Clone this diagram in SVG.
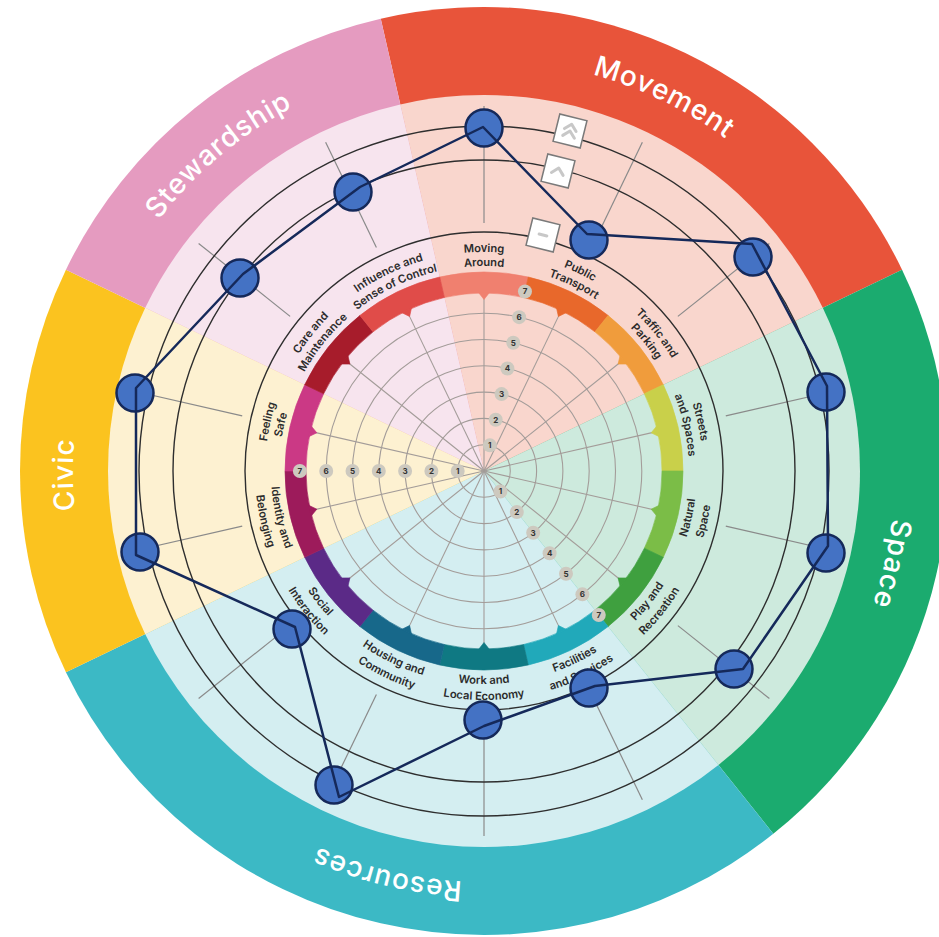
<svg xmlns="http://www.w3.org/2000/svg" xmlns:xlink="http://www.w3.org/1999/xlink" width="939" height="937" viewBox="0 0 939 937">
<style>
.ring{fill:none;stroke:#a39c99;stroke-width:1.1}
.spoke{stroke:#a39c99;stroke-width:1.1}
.tick{stroke:#8a8a8a;stroke-width:1.2}
.bk{fill:none;stroke:#2e2e2e;stroke-width:1.4}
.lbl{font-family:Inter,"Noto Sans",sans-serif;font-size:11.2px;font-weight:600;fill:#2b2b2b}
.cat{font-family:Inter,"Noto Sans",sans-serif;font-size:28px;font-weight:500;fill:#ffffff;letter-spacing:1px}
.nb{fill:#cdc9bf}
.nt{font-family:Inter,"Noto Sans",sans-serif;font-size:8px;font-weight:700;fill:#333;text-anchor:middle}
.box{fill:#ffffff;stroke:#7a7a7a;stroke-width:1.5}
.chev{fill:none;stroke:#c8c8c8;stroke-width:3;stroke-linecap:round;stroke-linejoin:round}
.mk{fill:#4472c4;stroke:#15295a;stroke-width:2.5}
.conn{fill:none;stroke:#15295a;stroke-width:2.5;stroke-linejoin:round}
</style>
<defs>
<g id="seg"><path d="M439.72,276.99 A199,199 0 0 1 528.28,276.99 L523.61,297.46 A178,178 0 0 0 444.39,297.46 Z"/><path d="M478.5,292.5 L489.5,292.5 L484,299.5 Z"/></g>
<path id="cw219" d="M484,690 A219,219 0 1 1 484,252 A219,219 0 1 1 484,690"/>
<path id="cw205" d="M484,676 A205,205 0 1 1 484,266 A205,205 0 1 1 484,676"/>
<path id="ccw213" d="M484,258 A213,213 0 1 0 484,684 A213,213 0 1 0 484,258"/>
<path id="ccw229" d="M484,242 A229,229 0 1 0 484,700 A229,229 0 1 0 484,242"/>
<path id="cw411" d="M484,882 A411,411 0 1 1 484,60 A411,411 0 1 1 484,882"/>
</defs>

<g id="outer-ring">
<path fill="#e8543a" d="M484,471 L380.75,18.63 A464,464 0 0 1 902.05,269.68 Z"/>
<path fill="#1bab6f" d="M484,471 L902.05,269.68 A464,464 0 0 1 773.30,833.77 Z"/>
<path fill="#3cb9c5" d="M484,471 L773.30,833.77 A464,464 0 0 1 65.95,672.32 Z"/>
<path fill="#fbc31f" d="M484,471 L65.95,672.32 A464,464 0 0 1 65.95,269.68 Z"/>
<path fill="#e59bc0" d="M484,471 L65.95,269.68 A464,464 0 0 1 380.75,18.63 Z"/>
</g>
<g id="pale-sectors">
<path fill="#f9d6cd" d="M484,471 L400.33,104.43 A376,376 0 0 1 822.76,307.86 Z"/>
<path fill="#cdeadd" d="M484,471 L822.76,307.86 A376,376 0 0 1 718.43,764.97 Z"/>
<path fill="#d4eef1" d="M484,471 L718.43,764.97 A376,376 0 0 1 145.24,634.14 Z"/>
<path fill="#fdf1d1" d="M484,471 L145.24,634.14 A376,376 0 0 1 145.24,307.86 Z"/>
<path fill="#f7e4ee" d="M484,471 L145.24,307.86 A376,376 0 0 1 400.33,104.43 Z"/>
</g>

<g id="category-labels" class="cat">
<text transform="rotate(25.714 484 471)"><textPath href="#cw411" startOffset="50%" text-anchor="middle">Movement</textPath></text>
<text transform="rotate(102.857 484 471)"><textPath href="#cw411" startOffset="50%" text-anchor="middle">Space</textPath></text>
<text transform="rotate(193.5 484 471)"><textPath href="#cw411" startOffset="50%" text-anchor="middle">Resources</textPath></text>
<text transform="rotate(269.5 484 471)"><textPath href="#cw411" startOffset="50%" text-anchor="middle">Civic</textPath></text>
<text transform="rotate(320 484 471)"><textPath href="#cw411" startOffset="50%" text-anchor="middle">Stewardship</textPath></text>
</g>

<g id="scale-rings">
<circle class="ring" cx="484" cy="471" r="26.3"/>
<circle class="ring" cx="484" cy="471" r="52.6"/>
<circle class="ring" cx="484" cy="471" r="78.9"/>
<circle class="ring" cx="484" cy="471" r="105.2"/>
<circle class="ring" cx="484" cy="471" r="131.5"/>
<circle class="ring" cx="484" cy="471" r="157.8"/>
</g>
<g id="spokes" class="spoke">
<line x1="484" y1="471" x2="484" y2="293"/>
<line x1="484" y1="471" x2="484" y2="293" transform="rotate(25.714 484 471)"/>
<line x1="484" y1="471" x2="484" y2="293" transform="rotate(51.429 484 471)"/>
<line x1="484" y1="471" x2="484" y2="293" transform="rotate(77.143 484 471)"/>
<line x1="484" y1="471" x2="484" y2="293" transform="rotate(102.857 484 471)"/>
<line x1="484" y1="471" x2="484" y2="293" transform="rotate(128.571 484 471)"/>
<line x1="484" y1="471" x2="484" y2="293" transform="rotate(154.286 484 471)"/>
<line x1="484" y1="471" x2="484" y2="293" transform="rotate(180 484 471)"/>
<line x1="484" y1="471" x2="484" y2="293" transform="rotate(205.714 484 471)"/>
<line x1="484" y1="471" x2="484" y2="293" transform="rotate(231.429 484 471)"/>
<line x1="484" y1="471" x2="484" y2="293" transform="rotate(257.143 484 471)"/>
<line x1="484" y1="471" x2="484" y2="293" transform="rotate(282.857 484 471)"/>
<line x1="484" y1="471" x2="484" y2="293" transform="rotate(308.571 484 471)"/>
<line x1="484" y1="471" x2="484" y2="293" transform="rotate(334.286 484 471)"/>
</g>

<g id="theme-band" stroke-width="0.6">
<use href="#seg" fill="#f0806f" stroke="#f0806f"/>
<use href="#seg" fill="#e8682b" stroke="#e8682b" transform="rotate(25.714 484 471)"/>
<use href="#seg" fill="#f09c3c" stroke="#f09c3c" transform="rotate(51.429 484 471)"/>
<use href="#seg" fill="#c9d04a" stroke="#c9d04a" transform="rotate(77.143 484 471)"/>
<use href="#seg" fill="#7bbd47" stroke="#7bbd47" transform="rotate(102.857 484 471)"/>
<use href="#seg" fill="#3fa03f" stroke="#3fa03f" transform="rotate(128.571 484 471)"/>
<use href="#seg" fill="#21a9ba" stroke="#21a9ba" transform="rotate(154.286 484 471)"/>
<use href="#seg" fill="#0f7983" stroke="#0f7983" transform="rotate(180 484 471)"/>
<use href="#seg" fill="#17688a" stroke="#17688a" transform="rotate(205.714 484 471)"/>
<use href="#seg" fill="#5b2a87" stroke="#5b2a87" transform="rotate(231.429 484 471)"/>
<use href="#seg" fill="#9d1b5b" stroke="#9d1b5b" transform="rotate(257.143 484 471)"/>
<use href="#seg" fill="#cb3985" stroke="#cb3985" transform="rotate(282.857 484 471)"/>
<use href="#seg" fill="#a71c2b" stroke="#a71c2b" transform="rotate(308.571 484 471)"/>
<use href="#seg" fill="#e04c49" stroke="#e04c49" transform="rotate(334.286 484 471)"/>
</g>

<g id="scale-numbers">
<circle class="nb" cx="489.85" cy="445.36" r="7"/><text class="nt" x="489.85" y="448.2">1</text>
<circle class="nb" cx="495.70" cy="419.72" r="7"/><text class="nt" x="495.70" y="422.6">2</text>
<circle class="nb" cx="501.56" cy="394.08" r="7"/><text class="nt" x="501.56" y="396.9">3</text>
<circle class="nb" cx="507.41" cy="368.44" r="7"/><text class="nt" x="507.41" y="371.3">4</text>
<circle class="nb" cx="513.26" cy="342.80" r="7"/><text class="nt" x="513.26" y="345.6">5</text>
<circle class="nb" cx="519.11" cy="317.16" r="7"/><text class="nt" x="519.11" y="320.0">6</text>
<circle class="nb" cx="524.97" cy="291.51" r="7"/><text class="nt" x="524.97" y="294.4">7</text>
<circle class="nb" cx="500.40" cy="491.56" r="7"/><text class="nt" x="500.40" y="494.4">1</text>
<circle class="nb" cx="516.80" cy="512.12" r="7"/><text class="nt" x="516.80" y="515.0">2</text>
<circle class="nb" cx="533.19" cy="532.69" r="7"/><text class="nt" x="533.19" y="535.5">3</text>
<circle class="nb" cx="549.59" cy="553.25" r="7"/><text class="nt" x="549.59" y="556.1">4</text>
<circle class="nb" cx="565.99" cy="573.81" r="7"/><text class="nt" x="565.99" y="576.7">5</text>
<circle class="nb" cx="582.39" cy="594.37" r="7"/><text class="nt" x="582.39" y="597.2">6</text>
<circle class="nb" cx="598.78" cy="614.94" r="7"/><text class="nt" x="598.78" y="617.8">7</text>
<circle class="nb" cx="457.7" cy="471" r="7"/><text class="nt" x="457.7" y="473.9">1</text>
<circle class="nb" cx="431.4" cy="471" r="7"/><text class="nt" x="431.4" y="473.9">2</text>
<circle class="nb" cx="405.1" cy="471" r="7"/><text class="nt" x="405.1" y="473.9">3</text>
<circle class="nb" cx="378.8" cy="471" r="7"/><text class="nt" x="378.8" y="473.9">4</text>
<circle class="nb" cx="352.5" cy="471" r="7"/><text class="nt" x="352.5" y="473.9">5</text>
<circle class="nb" cx="326.2" cy="471" r="7"/><text class="nt" x="326.2" y="473.9">6</text>
<circle class="nb" cx="299.9" cy="471" r="7"/><text class="nt" x="299.9" y="473.9">7</text>
</g>

<g id="theme-labels" class="lbl">
<text><textPath href="#cw219" startOffset="50%" text-anchor="middle">Moving</textPath></text>
<text><textPath href="#cw205" startOffset="50%" text-anchor="middle">Around</textPath></text>
<text transform="rotate(25.714 484 471)"><textPath href="#cw219" startOffset="50%" text-anchor="middle">Public</textPath></text>
<text transform="rotate(25.714 484 471)"><textPath href="#cw205" startOffset="50%" text-anchor="middle">Transport</textPath></text>
<text transform="rotate(51.429 484 471)"><textPath href="#cw219" startOffset="50%" text-anchor="middle">Traffic and</textPath></text>
<text transform="rotate(51.429 484 471)"><textPath href="#cw205" startOffset="50%" text-anchor="middle">Parking</textPath></text>
<text transform="rotate(77.143 484 471)"><textPath href="#cw219" startOffset="50%" text-anchor="middle">Streets</textPath></text>
<text transform="rotate(77.143 484 471)"><textPath href="#cw205" startOffset="50%" text-anchor="middle">and Spaces</textPath></text>
<text transform="rotate(-77.143 484 471)"><textPath href="#ccw213" startOffset="50%" text-anchor="middle">Natural</textPath></text>
<text transform="rotate(-77.143 484 471)"><textPath href="#ccw229" startOffset="50%" text-anchor="middle">Space</textPath></text>
<text transform="rotate(-51.429 484 471)"><textPath href="#ccw213" startOffset="50%" text-anchor="middle">Play and</textPath></text>
<text transform="rotate(-51.429 484 471)"><textPath href="#ccw229" startOffset="50%" text-anchor="middle">Recreation</textPath></text>
<text transform="rotate(-25.714 484 471)"><textPath href="#ccw213" startOffset="50%" text-anchor="middle">Facilities</textPath></text>
<text transform="rotate(-25.714 484 471)"><textPath href="#ccw229" startOffset="50%" text-anchor="middle">and Services</textPath></text>
<text><textPath href="#ccw213" startOffset="50%" text-anchor="middle">Work and</textPath></text>
<text><textPath href="#ccw229" startOffset="50%" text-anchor="middle">Local Economy</textPath></text>
<text transform="rotate(25.714 484 471)"><textPath href="#ccw213" startOffset="50%" text-anchor="middle">Housing and</textPath></text>
<text transform="rotate(25.714 484 471)"><textPath href="#ccw229" startOffset="50%" text-anchor="middle">Community</textPath></text>
<text transform="rotate(51.429 484 471)"><textPath href="#ccw213" startOffset="50%" text-anchor="middle">Social</textPath></text>
<text transform="rotate(51.429 484 471)"><textPath href="#ccw229" startOffset="50%" text-anchor="middle">Interaction</textPath></text>
<text transform="rotate(77.143 484 471)"><textPath href="#ccw213" startOffset="50%" text-anchor="middle">Identity and</textPath></text>
<text transform="rotate(77.143 484 471)"><textPath href="#ccw229" startOffset="50%" text-anchor="middle">Belonging</textPath></text>
<text transform="rotate(282.857 484 471)"><textPath href="#cw219" startOffset="50%" text-anchor="middle">Feeling</textPath></text>
<text transform="rotate(282.857 484 471)"><textPath href="#cw205" startOffset="50%" text-anchor="middle">Safe</textPath></text>
<text transform="rotate(308.571 484 471)"><textPath href="#cw219" startOffset="50%" text-anchor="middle">Care and</textPath></text>
<text transform="rotate(308.571 484 471)"><textPath href="#cw205" startOffset="50%" text-anchor="middle">Maintenance</textPath></text>
<text transform="rotate(334.286 484 471)"><textPath href="#cw219" startOffset="50%" text-anchor="middle">Influence and</textPath></text>
<text transform="rotate(334.286 484 471)"><textPath href="#cw205" startOffset="50%" text-anchor="middle">Sense of Control</textPath></text>
</g>

<g id="ticks" class="tick">
<line x1="484" y1="223" x2="484" y2="106"/>
<line x1="484" y1="223" x2="484" y2="106" transform="rotate(25.714 484 471)"/>
<line x1="484" y1="223" x2="484" y2="106" transform="rotate(51.429 484 471)"/>
<line x1="484" y1="223" x2="484" y2="106" transform="rotate(77.143 484 471)"/>
<line x1="484" y1="223" x2="484" y2="106" transform="rotate(102.857 484 471)"/>
<line x1="484" y1="223" x2="484" y2="106" transform="rotate(128.571 484 471)"/>
<line x1="484" y1="223" x2="484" y2="106" transform="rotate(154.286 484 471)"/>
<line x1="484" y1="223" x2="484" y2="106" transform="rotate(180 484 471)"/>
<line x1="484" y1="223" x2="484" y2="106" transform="rotate(205.714 484 471)"/>
<line x1="484" y1="223" x2="484" y2="106" transform="rotate(231.429 484 471)"/>
<line x1="484" y1="223" x2="484" y2="106" transform="rotate(257.143 484 471)"/>
<line x1="484" y1="223" x2="484" y2="106" transform="rotate(282.857 484 471)"/>
<line x1="484" y1="223" x2="484" y2="106" transform="rotate(308.571 484 471)"/>
<line x1="484" y1="223" x2="484" y2="106" transform="rotate(334.286 484 471)"/>
</g>
<g id="score-circles">
<circle class="bk" cx="484" cy="471" r="239"/>
<circle class="bk" cx="484" cy="471" r="311"/>
<circle class="bk" cx="484" cy="471" r="345"/>
</g>

<g id="scale-keys">
<g id="key-high" transform="translate(570 131) rotate(14)"><rect class="box" x="-14" y="-14" width="28" height="28"/><polyline class="chev" points="-6,-1 0,-7 6,-1"/><polyline class="chev" points="-6,6 0,0 6,6"/></g>
<g id="key-mid" transform="translate(558 171) rotate(14)"><rect class="box" x="-14" y="-14" width="28" height="28"/><polyline class="chev" points="-6,3 0,-3 6,3"/></g>
<g id="key-low" transform="translate(543 235) rotate(14)"><rect class="box" x="-14" y="-14" width="28" height="28"/><line class="chev" x1="-4" y1="0" x2="4" y2="0"/></g>
</g>

<g id="markers">
<g id="m-moving"><circle class="mk" cx="484" cy="128" r="18.5"/></g>
<g id="m-transport"><circle class="mk" cx="589" cy="240" r="18.5"/></g>
<g id="m-traffic"><circle class="mk" cx="753" cy="257" r="18.5"/></g>
<g id="m-streets"><circle class="mk" cx="826" cy="392" r="18.5"/></g>
<g id="m-natural"><circle class="mk" cx="826" cy="553" r="18.5"/></g>
<g id="m-play"><circle class="mk" cx="734" cy="669" r="18.5"/></g>
<g id="m-facilities"><circle class="mk" cx="589" cy="688" r="18.5"/></g>
<g id="m-work"><circle class="mk" cx="483" cy="720" r="18.5"/></g>
<g id="m-housing"><circle class="mk" cx="334" cy="785" r="18.5"/></g>
<g id="m-social"><circle class="mk" cx="292" cy="629" r="18.5"/></g>
<g id="m-identity"><circle class="mk" cx="140" cy="552" r="18.5"/></g>
<g id="m-safe"><circle class="mk" cx="135" cy="393" r="18.5"/></g>
<g id="m-care"><circle class="mk" cx="240" cy="278" r="18.5"/></g>
<g id="m-influence"><circle class="mk" cx="353" cy="192" r="18.5"/></g>
</g>
<g id="connectors">
<polygon class="conn" points="483,127 587,234 752,244 827,386 828,546 743,669 595,686 484,726 339,797 295,627 136,555 136,388 243,274 360,187"/>
</g>
</svg>
